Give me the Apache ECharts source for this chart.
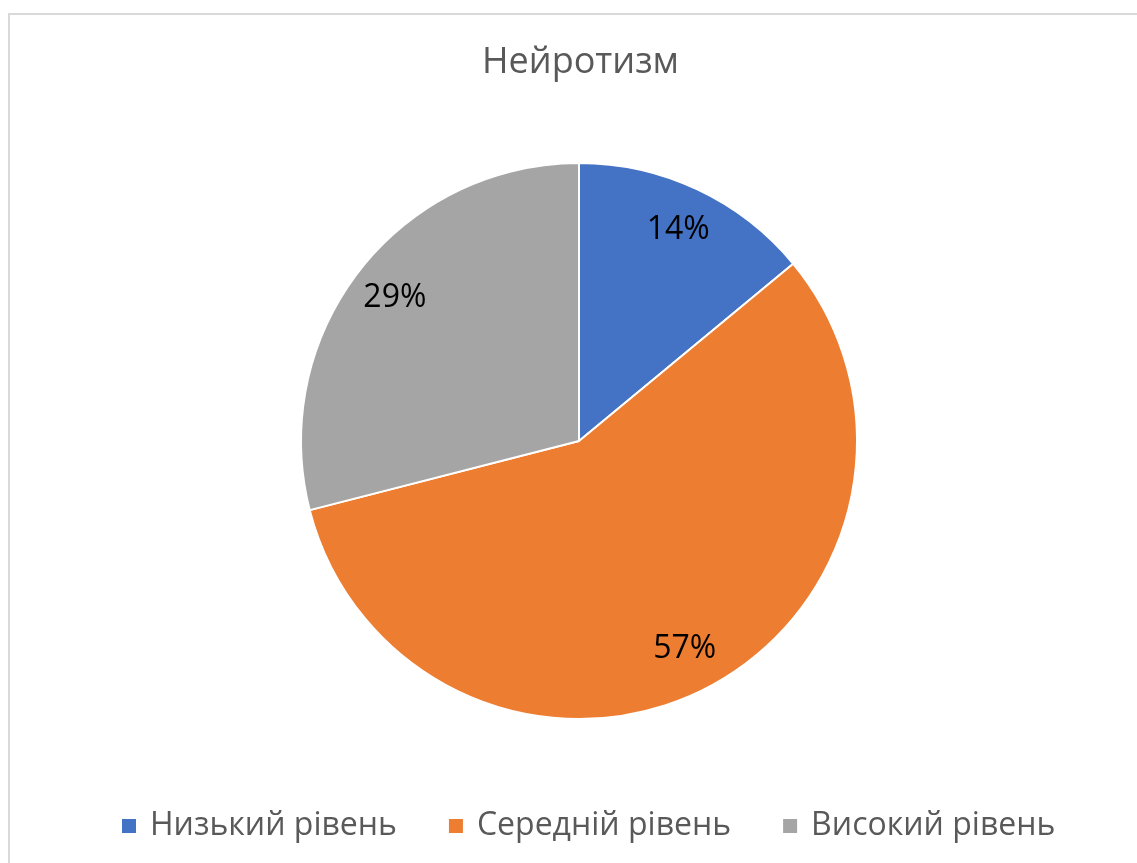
<!DOCTYPE html>
<html>
<head>
<meta charset="utf-8">
<script src="https://cdn.jsdelivr.net/npm/echarts@6/dist/echarts.min.js"></script>
<style>
	html, body { margin: 0; padding: 0; background: #fff; }
	#frame { position: absolute; left: 8px; top: 13px; width: 1140px; height: 860px; border-left: 2px solid #d9d9d9; border-top: 2px solid #d9d9d9; }
	#main { position: absolute; left: 0; top: 0; width: 1137px; height: 863px; }
</style>
</head>
<body>
<div id="frame"></div>
<div id="main"></div>
<script>
var categories = ['Низький рівень', 'Середній рівень', 'Високий рівень']; //категорії
var values = [14, 57, 29]; //відсотки
var colors = ['#4472C4', '#ED7D31', '#A5A5A5']; //кольори секторів

var myChart = echarts.init(document.getElementById('main'));

var sliceData = [];
var labelData = [];
for (var i = 0; i < categories.length; i++) {
	sliceData.push({ name: categories[i], value: values[i], itemStyle: { color: colors[i] } });
	labelData.push({ name: categories[i], value: values[i] });
}

var option = {
	animation: false,
	title: {
		text: 'Нейротизм',
		left: 477,
		top: 40,
		textStyle: { fontFamily: 'Open Sans', fontSize: 36, fontWeight: 'normal', color: '#595959' }
	},
	legend: {
		bottom: 16,
		left: 115,
		icon: 'rect',
		itemWidth: 16,
		itemHeight: 16,
		itemGap: 50,
		data: categories,
		textStyle: { fontFamily: 'Open Sans', fontSize: 32, color: '#595959', padding: [0, 0, 0, 8] }
	},
	series: [
		{
			type: 'pie',
			center: [579, 441],
			radius: [0, 278],
			startAngle: 90,
			clockwise: true,
			label: { show: false },
			labelLine: { show: false },
			itemStyle: { borderColor: '#fff', borderWidth: 2 },
			emphasis: { disabled: true },
			data: sliceData
		},
		{ // прозорий шар тільки для підписів
			type: 'pie',
			center: [579, 441],
			radius: [0, 460],
			startAngle: 90,
			clockwise: true,
			silent: true,
			legendHoverLink: false,
			itemStyle: { color: 'rgba(0,0,0,0)' },
			label: {
				show: true,
				position: 'inside',
				formatter: '{c}%',
				fontFamily: 'Open Sans',
				fontSize: 32,
				color: '#000'
			},
			labelLine: { show: false },
			data: labelData
		}
	]
};
myChart.setOption(option);
</script>
</body>
</html>
